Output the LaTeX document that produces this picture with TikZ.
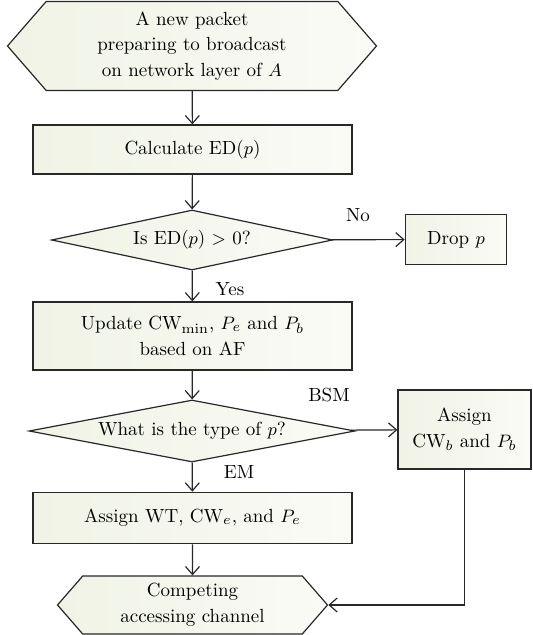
\documentclass[tikz,border=0pt]{standalone}
\usepackage{amsmath}
\usetikzlibrary{shapes.geometric, shapes.symbols, arrows.meta}
\tikzset{>={Straight Barb[length=4pt,width=7pt]}}
\definecolor{tintL}{RGB}{240,243,229}
\definecolor{tintR}{RGB}{250,251,246}
\definecolor{edge}{RGB}{40,40,40}
\tikzset{
  stage/.style={draw=edge, line width=0.6pt, left color=tintL, right color=tintR,
    align=center, inner sep=0pt},
  procbox/.style={stage, rectangle},
  testbox/.style={stage, diamond, aspect=5},
  endbox/.style={stage, signal, signal to=west and east, signal pointer angle=98},
  flow/.style={->, draw=edge, line width=0.6pt},
  tag/.style={inner sep=0pt}
}

\begin{document}
\begin{tikzpicture}[x=0.5pt, y=-0.5pt, font=\fontsize{9.5}{12.75}\selectfont]
\useasboundingbox (0,0) rectangle (532,635);
% nodes
\node[endbox, minimum width=184.5pt, minimum height=44.5pt] (top) at (192,46)
  {A new packet\\preparing to broadcast\\on network layer of $A$};
\node[procbox, minimum width=159.5pt, minimum height=24.5pt] (calc) at (192.5,149.5)
  {Calculate ED($p$)};
\node[testbox, minimum width=140.5pt, minimum height=30pt] (check) at (192,240)
  {Is ED($p$) $>$ 0?};
\node[procbox, minimum width=50.75pt, minimum height=25pt] (drop) at (456,239.5)
  {Drop $p$};
\node[procbox, minimum width=159.5pt, minimum height=34pt] (update) at (192.5,336)
  {Update CW$_{\mathrm{min}}$, $P_e$ and $P_b$\\based on AF};
\node[testbox, minimum width=163pt, minimum height=31pt] (type) at (192,431)
  {What is the type of $p$?};
\node[procbox, minimum width=66.5pt, minimum height=39.5pt] (assignb) at (464.5,429.5)
  {Assign\\CW$_b$ and $P_b$};
\node[procbox, minimum width=159.5pt, minimum height=25.75pt] (assigne) at (192.5,518)
  {Assign WT, CW$_e$, and $P_e$};
\node[endbox, minimum width=135pt, minimum height=29pt] (compete) at (192.5,605)
  {Competing\\accessing channel};
% labels
\node[tag] (lblno) at (358,215) {No};
\node[tag] (lblyes) at (230,289) {Yes};
\node[tag] (lblbsm) at (329,395) {BSM};
\node[tag] (lblem) at (239,472) {EM};
% connectors
\draw[flow] (top) -- (calc);
\draw[flow] (calc) -- (check);
\draw[flow] (check) -- (drop);
\draw[flow] (check) -- (update);
\draw[flow] (update) -- (type);
\draw[flow] (type) -- (assignb);
\draw[flow] (type) -- (assigne);
\draw[flow] (assigne) -- (compete);
\draw[flow] (assignb.south) |- (compete.east);
\end{tikzpicture}
\end{document}
